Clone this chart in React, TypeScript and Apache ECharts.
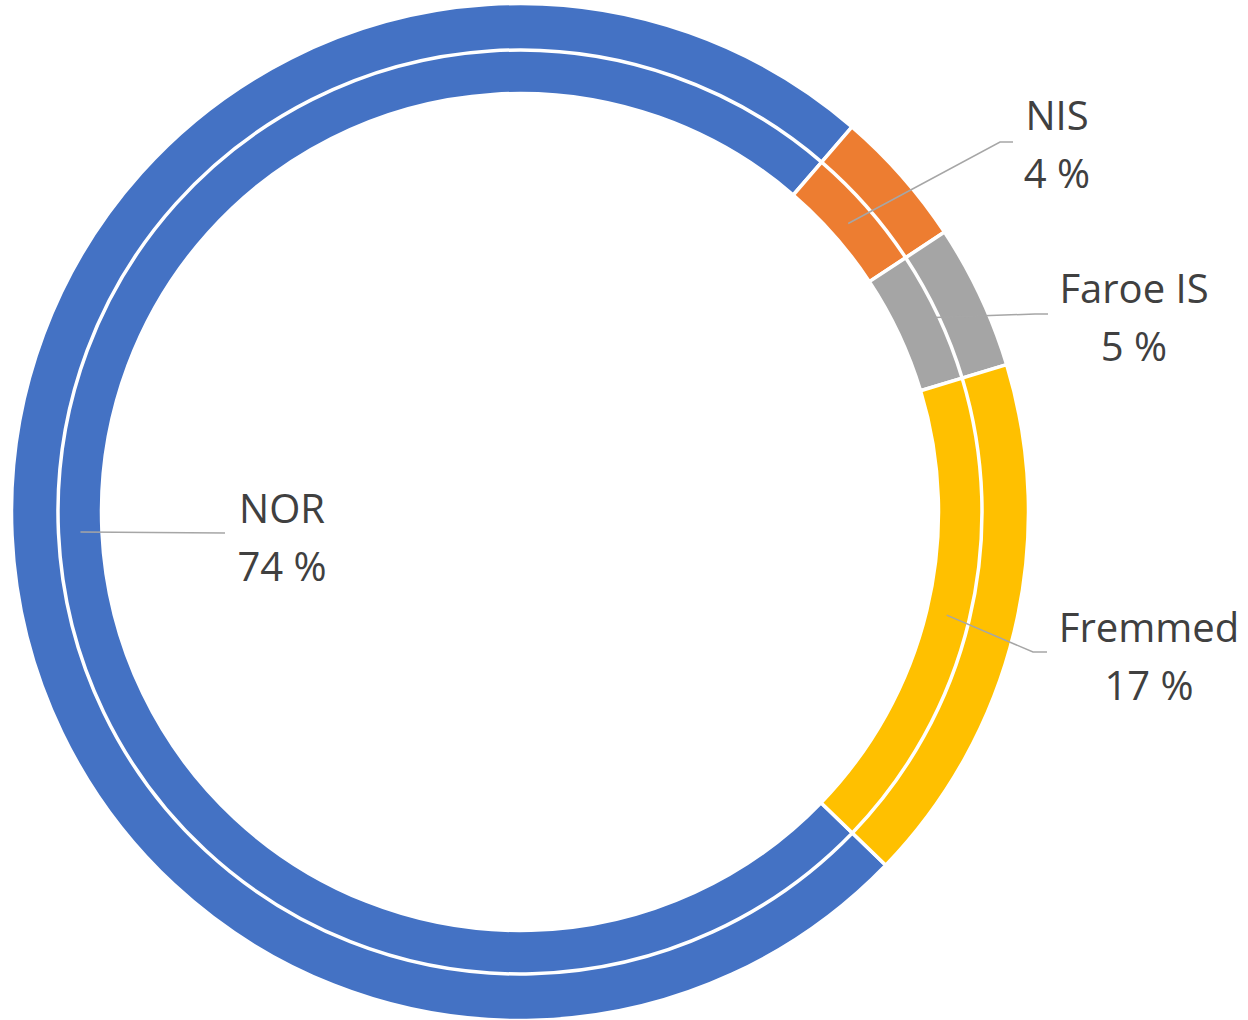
import React, { useEffect, useRef } from 'react';
import * as echarts from 'echarts';

const categories = ['NOR', 'NIS', 'Faroe IS', 'Fremmed'];
const innerValues = [74.1, 4.4, 4.6, 16.9];
const outerValues = [74.1, 4.4, 4.6, 16.9];
const colors = ['#4472C4', '#ED7D31', '#A5A5A5', '#FFC000'];

const CX = 520;
const CY = 512;
const START_DEG = 134; // clockwise from 12 o'clock
const labelAnchors = [
  [282, 536],
  [1057, 143],
  [1134, 316],
  [1149, 655],
];
const lineBends = [
  [[152, 532.5], [225, 533]],
  [[1000, 142], [1013, 142]],
  [[1035, 314], [1048, 314]],
  [[1033, 652], [1047, 652]],
];
const lineStartR = [440, 437, 458, 439];

function midAngles(values: number[]): number[] {
  const total = values.reduce((a, b) => a + b, 0);
  let acc = START_DEG;
  return values.map((v) => {
    const span = (v / total) * 360;
    const mid = acc + span / 2;
    acc += span;
    return mid;
  });
}

export default function App() {
  const ref = useRef<HTMLDivElement>(null);
  useEffect(() => {
    document.body.style.margin = '0';
    if (!ref.current) return;
    const chart = echarts.init(ref.current, undefined, { renderer: 'svg' });
    const mids = midAngles(innerValues);
    const total = innerValues.reduce((a, b) => a + b, 0);
    const common = {
      type: 'pie',
      center: [CX, CY],
      startAngle: 90 - START_DEG,
      clockwise: true,
      avoidLabelOverlap: false,
      emphasis: { disabled: true },
    };
    chart.setOption({
      animation: false,
      backgroundColor: '#ffffff',
      color: colors,
      series: [
        {
          ...common,
          name: 'outer',
          radius: [461, 508.5],
          label: { show: false },
          labelLine: { show: false },
          itemStyle: { borderColor: '#ffffff', borderWidth: 3.5 },
          data: categories.map((c, i) => ({ name: c, value: outerValues[i] })),
        },
        {
          ...common,
          name: 'inner',
          radius: [418.5, 462],
          label: { show: false },
          labelLine: { show: false },
          itemStyle: { borderColor: '#ffffff', borderWidth: 3.5 },
          data: categories.map((c, i) => ({ name: c, value: innerValues[i] })),
        },
        {
          ...common,
          name: 'labels',
          z: 5,
          silent: true,
          radius: [418.5, 462],
          itemStyle: { color: 'rgba(0,0,0,0)', borderWidth: 0 },
          label: {
            show: true,
            position: 'outside',
            fontFamily: 'Open Sans',
            fontSize: 40,
            lineHeight: 58,
            color: '#404040',
            align: 'center',
            formatter: (p: any) => `${p.name}\n${Math.round((p.value / total) * 100)} %`,
          },
          labelLine: {
            show: true,
            showAbove: true,
            lineStyle: { color: '#A6A6A6', width: 1.5 },
          },
          labelLayout: (params: any) => {
            const i = params.dataIndex;
            const a = (mids[i] * Math.PI) / 180;
            const r = lineStartR[i];
            const start = [CX + r * Math.sin(a), CY - r * Math.cos(a)];
            return {
              x: labelAnchors[i][0],
              y: labelAnchors[i][1],
              align: 'center',
              verticalAlign: 'middle',
              labelLinePoints: [start, lineBends[i][0], lineBends[i][1]],
            };
          },
          data: categories.map((c, i) => ({ name: c, value: innerValues[i] })),
        },
      ],
    });
    return () => chart.dispose();
  }, []);
  return <div ref={ref} style={{ width: 1248, height: 1020 }} />;
}
